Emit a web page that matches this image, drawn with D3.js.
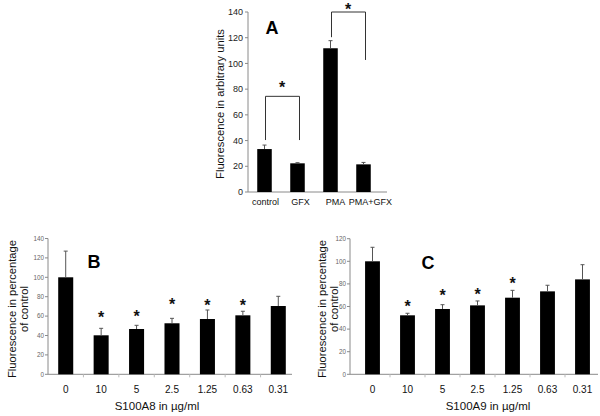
<!DOCTYPE html>
<html><head><meta charset="utf-8">
<script src="https://cdn.jsdelivr.net/npm/d3@7"></script>
<style>body{margin:0;background:#fff}svg{display:block}text{font-family:"Liberation Sans",Arial,sans-serif}</style>
</head><body>
<svg id="c" width="600" height="416"></svg>
<script>
// Panel A
const catsA = ["control","GFX","PMA","PMA+GFX"];
const valsA = [33.4, 22.3, 111.8, 21.5];
const errA  = [36.5, 22.8, 117.7, 23.0];
const ticksA = [0,20,40,60,80,100,120,140];
// Panel B
const catsB = ["0","10","5","2.5","1.25","0.63","0.31"];
const valsB = [100, 40.2, 46.7, 52.6, 57, 60.8, 70.4];
const errB  = [127, 47.4, 50.5, 57.7, 66.3, 65, 80.4];
const starsB = [null, 62.2, 63.5, 75.6, 74.5, 74.5, null];
const ticksB = [0,20,40,60,80,100,120,140];
// Panel C
const catsC = ["0","10","5","2.5","1.25","0.63","0.31"];
const valsC = [100, 52.2, 57.8, 61, 67.8, 73.4, 84];
const errC  = [112.4, 54, 61.6, 64.9, 74.3, 78.8, 97];
const starsC = [null, 63, 73, 73.7, 83.5, null, null];
const ticksC = [0,20,40,60,80,100,120];

const svg = d3.select("#c");
const AX = "#8a8a8a";

function panel(o){
  const g = svg.append("g");
  const x = d3.scaleBand().domain(o.cats).range(o.xr).paddingInner(o.pi).paddingOuter(o.pi/2);
  const xl = o.labelRange ? d3.scalePoint().domain(o.cats).range(o.labelRange).padding(0.5) : (d=>x(d)+x.bandwidth()/2);
  const y = d3.scaleLinear().domain(o.yd).range(o.yr);
  // y axis
  g.append("line").attr("x1",o.ax).attr("x2",o.ax).attr("y1",y(o.yd[0])).attr("y2",y(o.yd[1])).attr("stroke",AX);
  g.selectAll(".yt").data(o.ticks).join("line").attr("x1",o.ax-3).attr("x2",o.ax).attr("y1",d=>y(d)).attr("y2",d=>y(d)).attr("stroke",AX);
  g.selectAll(".yl").data(o.ticks).join("text").attr("x",o.ax-o.lgap).attr("y",d=>y(d)).attr("dy","0.35em")
    .attr("text-anchor","end").attr("font-size",o.tfs).attr("fill",o.tcol).text(d=>d);
  // x axis
  g.append("line").attr("x1",o.ax).attr("x2",o.xend).attr("y1",y(0)).attr("y2",y(0)).attr("stroke",AX);
  if(o.xticks){
    g.selectAll(".xt").data(o.cats.slice(1)).join("line")
      .attr("x1",d=>x(d)-x.step()*x.paddingInner()/2).attr("x2",d=>x(d)-x.step()*x.paddingInner()/2)
      .attr("y1",y(0)).attr("y2",y(0)+3).attr("stroke","#bbb");
  }
  g.selectAll(".xl").data(o.cats).join("text").attr("x",d=>xl(d)).attr("y",o.xly)
    .attr("text-anchor","middle").attr("font-size",o.xfs).attr("fill","#111").text(d=>d);
  // bars
  g.selectAll(".bar").data(o.vals).join("rect").attr("x",(d,i)=>x(o.cats[i])).attr("width",x.bandwidth())
    .attr("y",d=>y(d)).attr("height",d=>y(0)-y(d)).attr("fill","#000");
  // error bars
  const eb = g.selectAll(".eb").data(o.errs).join("g");
  eb.append("line").attr("x1",(d,i)=>x(o.cats[i])+x.bandwidth()/2).attr("x2",(d,i)=>x(o.cats[i])+x.bandwidth()/2)
    .attr("y1",(d,i)=>y(o.vals[i])).attr("y2",d=>y(d)).attr("stroke","#555").attr("stroke-width",1);
  eb.append("line").attr("x1",(d,i)=>x(o.cats[i])+x.bandwidth()/2-2).attr("x2",(d,i)=>x(o.cats[i])+x.bandwidth()/2+2)
    .attr("y1",d=>y(d)).attr("y2",d=>y(d)).attr("stroke","#555").attr("stroke-width",1);
  // stars
  if(o.stars){
    g.selectAll(".st").data(o.stars.map((s,i)=>({s,i})).filter(d=>d.s!=null)).join("text")
      .attr("x",d=>x(o.cats[d.i])+x.bandwidth()/2).attr("y",d=>y(d.s)+9).attr("text-anchor","middle")
      .attr("font-size",16).attr("font-weight","bold").attr("fill","#111").text("*");
  }
  // panel letter
  g.append("text").attr("x",o.lx).attr("y",o.ly).attr("font-size",18).attr("font-weight","bold").attr("text-anchor","middle").text(o.letter);
  // y title
  const t = g.append("text").attr("transform",`translate(${o.tx},${o.ty}) rotate(-90)`).attr("text-anchor","middle")
    .attr("font-size",o.yfs).attr("fill","#111");
  o.ytitle.forEach((s,k)=>t.append("tspan").attr("x",0).attr("dy",k===0?0:o.yfs*1.05).text(s));
  if(o.xtitle){
    g.append("text").attr("x",o.xtx).attr("y",o.xty).attr("text-anchor","middle").attr("font-size",11.5).attr("fill","#111").text(o.xtitle);
  }
  return {g,x,y};
}

const A = panel({cats:catsA, vals:valsA, errs:errA, xr:[248,380], pi:0.56, yd:[0,140], yr:[192,12], ax:248, xend:387,
  labelRange:[248,388],
  ticks:ticksA, lgap:5, tfs:9, tcol:"#222", xly:205, xfs:9, xticks:false, letter:"A", lx:272, ly:34,
  ytitle:["Fluorescence in arbitrary units"], tx:224, ty:104, yfs:11.2});
// brackets in A
const xa = A.x, ya = A.y, cA = d=>xa(d)+xa.bandwidth()/2;
const brackets = [
  {a:"control", b:"GFX", top:74.4, la:40.4, lb:40.4, star:84},
  {a:"PMA", b:"PMA+GFX", top:140, la:120.4, lb:102.7, star:144.5}
];
brackets.forEach(br=>{
  A.g.append("path").attr("fill","none").attr("stroke","#333").attr("stroke-width",1)
    .attr("d",`M${cA(br.a)+1},${ya(br.la)}V${ya(br.top)}H${cA(br.b)+2}V${ya(br.lb)}`);
  A.g.append("text").attr("x",(cA(br.a)+cA(br.b))/2+1).attr("y",ya(br.star)+9).attr("text-anchor","middle")
    .attr("font-size",16).attr("font-weight","bold").attr("fill","#111").text("*");
});

panel({cats:catsB, vals:valsB, errs:errB, stars:starsB, xr:[48,296], pi:0.576, yd:[0,140], yr:[374.3,238.5], ax:48, xend:292,
  ticks:ticksB, lgap:4, tfs:6.3, tcol:"#666", xly:393, xfs:10, xticks:true, letter:"B", lx:94, ly:268,
  ytitle:["Fluorescence in percentage","of control"], tx:16, ty:309, yfs:11.2, xtitle:"S100A8 in \u00b5g/ml", xtx:157, xty:410});

panel({cats:catsC, vals:valsC, errs:errC, stars:starsC, xr:[355,600], pi:0.576, yd:[0,120], yr:[374.3,238.7], ax:350, xend:598,
  ticks:ticksC, lgap:4, tfs:6.3, tcol:"#666", xly:393, xfs:10, xticks:true, letter:"C", lx:428, ly:269,
  ytitle:["Fluorescence in percentage","of control"], tx:326, ty:309, yfs:11.2, xtitle:"S100A9 in \u00b5g/ml", xtx:488, xty:410});
</script>
</body></html>
